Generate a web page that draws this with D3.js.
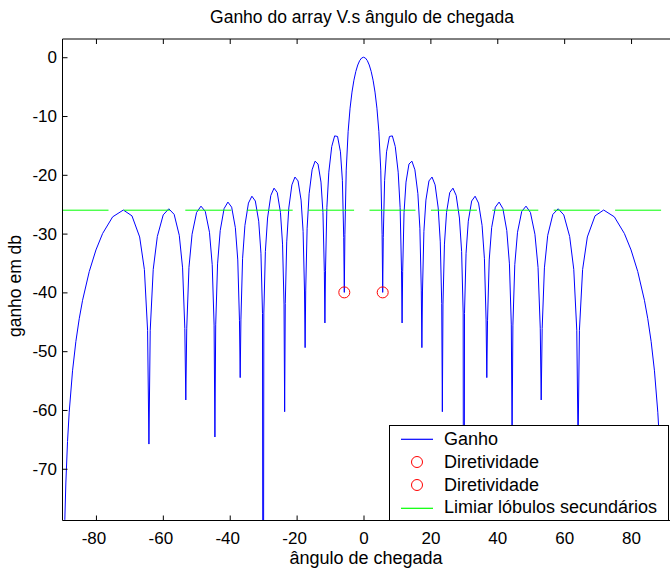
<!DOCTYPE html>
<html>
<head>
<meta charset="utf-8">
<script src="https://cdn.jsdelivr.net/npm/d3@7"></script>
<style>
  body { margin: 0; background: #fff; }
  svg { display: block; }
  text { font-family: "Liberation Sans", Arial, sans-serif; fill: #000; }
</style>
</head>
<body>
<div id="app"></div>
<script>
// angles (deg) and array gain (dB)
var angles = [
  -90, -89.6, -89.3, -89, -88.5, -88, -87, -86, -85, -84, -82, -80, -78, -75, -71.81, -69.23, -66.93, -65.51, -64.56,
  -64.158, -63.77, -62.873, -61.642, -59.886, -58.212, -56.615, -55.083, -54.096, -53.424,
  -53.13, -52.851, -52.188, -51.26, -49.911, -48.59, -47.307, -46.054, -45.235, -44.67,
  -44.427, -44.194, -43.633, -42.844, -41.684, -40.542, -39.42, -38.317, -37.592, -37.087,
  -36.87, -36.654, -36.157, -35.452, -34.402, -33.367, -32.342, -31.333, -30.664, -30.199,
  -30, -29.801, -29.34, -28.685, -27.71, -26.744, -25.786, -24.835, -24.205, -23.765,
  -23.578, -23.39, -22.954, -22.334, -21.408, -20.487, -19.572, -18.663, -18.059, -17.637,
  -17.458, -17.277, -16.858, -16.26, -15.367, -14.478, -13.592, -12.709, -12.122, -11.712,
  -11.537, -11.362, -10.953, -10.37, -9.497, -8.627, -7.759, -6.892, -6.315, -5.912,
  -5.739, -5.567, -5.164, -4.589, -4.014, -3.44, -2.866, -2.292, -1.719, -1.146, -0.573,
  0,
  0.573, 1.146, 1.719, 2.292, 2.866, 3.44, 4.014, 4.589, 5.164, 5.567, 5.739,
  5.912, 6.315, 6.892, 7.759, 8.627, 9.497, 10.37, 10.953, 11.362, 11.537,
  11.712, 12.122, 12.709, 13.592, 14.478, 15.367, 16.26, 16.858, 17.277, 17.458,
  17.637, 18.059, 18.663, 19.572, 20.487, 21.408, 22.334, 22.954, 23.39, 23.578,
  23.765, 24.205, 24.835, 25.786, 26.744, 27.71, 28.685, 29.34, 29.801, 30,
  30.199, 30.664, 31.333, 32.342, 33.367, 34.402, 35.452, 36.157, 36.654, 36.87,
  37.087, 37.592, 38.317, 39.42, 40.542, 41.684, 42.844, 43.633, 44.194, 44.427,
  44.67, 45.235, 46.054, 47.307, 48.59, 49.911, 51.26, 52.188, 52.851, 53.13,
  53.424, 54.096, 55.083, 56.615, 58.212, 59.886, 61.642, 62.873, 63.77, 64.158,
  64.56, 65.51, 66.93, 69.23, 71.81, 75, 78, 80, 82, 84, 85, 86, 87, 88, 88.5, 89, 89.3, 89.6, 90
]
var gainDb = [
  -150, -87, -78.6, -72.42, -65.37, -60.39, -53.34, -48.33, -44.48, -41.34, -36.45, -32.78, -29.98, -27.15, -25.99, -26.98, -30.57, -36.13, -46.45,
  -65.8, -46.44, -36.09, -30.49, -26.82, -25.78, -26.73, -30.29, -35.83, -46.13,
  -58.3, -46.10, -35.74, -30.11, -26.41, -25.33, -26.24, -29.77, -35.29, -45.57,
  -64.6, -45.53, -35.15, -29.49, -25.75, -24.64, -25.51, -28.99, -34.48, -44.74,
  -54.5, -44.68, -34.28, -28.60, -24.81, -23.64, -24.46, -27.89, -33.34, -43.58,
  -150, -43.50, -33.07, -27.35, -23.51, -22.27, -23.02, -26.39, -31.79, -41.99,
  -60.3, -41.88, -31.41, -25.64, -21.71, -20.38, -21.04, -24.30, -29.62, -39.77,
  -49.4, -39.61, -29.09, -23.22, -19.15, -17.68, -18.17, -21.24, -26.43, -36.48,
  -45.2, -36.22, -25.59, -19.55, -15.19, -13.38, -13.48, -16.09, -20.93, -30.69,
  -40, -30.17, -19.20, -12.60, -8.67, -5.93, -3.91, -2.41, -1.32, -0.58, -0.14,
  0,
  -0.14, -0.58, -1.32, -2.41, -3.91, -5.93, -8.67, -12.60, -19.20, -30.17, -40,
  -30.69, -20.93, -16.09, -13.48, -13.38, -15.19, -19.55, -25.59, -36.22, -45.2,
  -36.48, -26.43, -21.24, -18.17, -17.68, -19.15, -23.22, -29.09, -39.61, -49.4,
  -39.77, -29.62, -24.30, -21.04, -20.38, -21.71, -25.64, -31.41, -41.88, -60.3,
  -41.99, -31.79, -26.39, -23.02, -22.27, -23.51, -27.35, -33.07, -43.50, -150,
  -43.58, -33.34, -27.89, -24.46, -23.64, -24.81, -28.60, -34.28, -44.68, -54.5,
  -44.74, -34.48, -28.99, -25.51, -24.64, -25.75, -29.49, -35.15, -45.53, -64.6,
  -45.57, -35.29, -29.77, -26.24, -25.33, -26.41, -30.11, -35.74, -46.10, -58.3,
  -46.13, -35.83, -30.29, -26.73, -25.78, -26.82, -30.49, -36.09, -46.44, -65.8,
  -46.45, -36.13, -30.57, -26.98, -25.99, -27.15, -29.98, -32.78, -36.45, -41.34, -44.48, -48.33, -53.34, -60.39, -65.37, -72.42, -78.6, -87, -150
]

// first nulls marked as "diretividade"
var dirAngles = [-5.739, 5.739]
var dirGain = [-40, -40]

// side lobe threshold line
var limiarAngles = [-90, 90]
var limiarDb = -26.02

var xTicks = [-80, -60, -40, -20, 0, 20, 40, 60, 80]
var yTicks = [0, -10, -20, -30, -40, -50, -60, -70]
var legendNames = ["Ganho", "Diretividade", "Diretividade", "Limiar lóbulos secundários"]

var width = 670, height = 573
var pLeft = 62.5, pTop = 39, pBottom = 520.5, pRight = 670

var x = d3.scaleLinear().domain([-90, 90]).range([62.5, 664.5])
var y = d3.scaleLinear().domain([-78.8, 3.1]).range([pBottom, pTop])

var svg = d3.select("#app")
  .append("svg")
  .attr("width", width)
  .attr("height", height)

svg.append("defs").append("clipPath")
  .attr("id", "plot")
  .append("rect")
  .attr("x", pLeft)
  .attr("y", pTop)
  .attr("width", pRight - pLeft)
  .attr("height", pBottom - pTop)

var plot = svg.append("g").attr("clip-path", "url(#plot)")

// gain curve
var pts = angles.map(function (a, i) { return [a, gainDb[i]] })
var line = d3.line()
  .x(function (d) { return x(d[0]) })
  .y(function (d) { return y(d[1]) })

plot.append("path")
  .datum(pts)
  .attr("d", line)
  .attr("fill", "none")
  .attr("stroke", "#0000ff")
  .attr("stroke-width", 1)

// threshold, dashed
plot.append("path")
  .datum(limiarAngles.map(function (a) { return [a, limiarDb] }))
  .attr("d", line)
  .attr("fill", "none")
  .attr("stroke", "#00ff00")
  .attr("stroke-width", 1)
  .attr("stroke-dasharray", "46,15.4")

plot.selectAll(".dir")
  .data(dirAngles)
  .enter()
  .append("circle")
  .attr("class", "dir")
  .attr("cx", function (d) { return x(d) })
  .attr("cy", function (d, i) { return y(dirGain[i]) })
  .attr("r", 5.5)
  .attr("fill", "none")
  .attr("stroke", "#ff0000")
  .attr("stroke-width", 1)

// axes
svg.append("g")
  .attr("transform", "translate(0," + pBottom + ")")
  .call(d3.axisBottom(x).tickValues(xTicks).tickSizeInner(-5).tickSizeOuter(0).tickPadding(11.4))
svg.append("g")
  .attr("transform", "translate(0," + pTop + ")")
  .call(d3.axisTop(x).tickValues(xTicks).tickSizeInner(-5).tickSizeOuter(0).tickFormat(""))
svg.append("g")
  .attr("class", "yax")
  .attr("transform", "translate(" + pLeft + ",0)")
  .call(d3.axisLeft(y).tickValues(yTicks).tickSizeInner(-5).tickSizeOuter(0).tickPadding(5.5))

svg.selectAll(".domain").remove()
svg.selectAll(".tick line").attr("stroke", "#000")
svg.selectAll(".tick text")
  .style("font-size", "17px")
  .attr("fill", "#000")
  .text(function (d) { return d3.select(this).text() === "" ? "" : (d < 0 ? "-" + Math.abs(d) : "" + d) })
// matlab's minus is a bit wider, negative x labels sit slightly left
svg.selectAll(".tick text")
  .filter(function (d) { return d < 0 && !d3.select(this.parentNode.parentNode).classed("yax") })
  .attr("dx", -2.5)

// frame
svg.append("path")
  .attr("d", "M" + pRight + "," + pTop + "H" + pLeft + "V" + pBottom + "H" + pRight)
  .attr("fill", "none")
  .attr("stroke", "#000")
  .attr("stroke-width", 1)

// labels
svg.append("text")
  .attr("x", 362)
  .attr("y", 23)
  .attr("text-anchor", "middle")
  .style("font-size", "17.5px")
  .text("Ganho do array V.s ângulo de chegada")

svg.append("text")
  .attr("x", 366)
  .attr("y", 564)
  .attr("text-anchor", "middle")
  .style("font-size", "18px")
  .text("ângulo de chegada")

svg.append("text")
  .attr("transform", "translate(21,286) rotate(-90)")
  .attr("text-anchor", "middle")
  .style("font-size", "17.5px")
  .text("ganho em db")

// legend
var lg = svg.append("g")
lg.append("rect")
  .attr("x", 389.5)
  .attr("y", 425.5)
  .attr("width", 279)
  .attr("height", pBottom - 425.5)
  .attr("fill", "#fff")
  .attr("stroke", "#000")
  .attr("stroke-width", 1)

var rowY = [439.5, 462, 485, 507.5]
lg.append("path")
  .attr("d", "M401," + (rowY[0] - 0.2) + "H433")
  .style("stroke", "#0000ff")
  .style("stroke-width", "1.2px")
  .style("fill", "none")
lg.append("circle").attr("cx", 417).attr("cy", rowY[1]).attr("r", 5.5)
  .attr("fill", "none").attr("stroke", "#ff0000")
lg.append("circle").attr("cx", 417).attr("cy", rowY[2]).attr("r", 5.5)
  .attr("fill", "none").attr("stroke", "#ff0000")
lg.append("path")
  .attr("d", "M401," + (rowY[3] + 0.8) + "H433")
  .style("stroke", "#00ff00")
  .style("stroke-width", "1.2px")
  .style("fill", "none")

lg.selectAll(".lbl")
  .data(legendNames)
  .enter()
  .append("text")
  .attr("class", "lbl")
  .attr("x", 444)
  .attr("y", function (d, i) { return rowY[i] + 5.8 })
  .style("font-size", "18px")
  .text(function (d) { return d })
</script>
</body>
</html>
